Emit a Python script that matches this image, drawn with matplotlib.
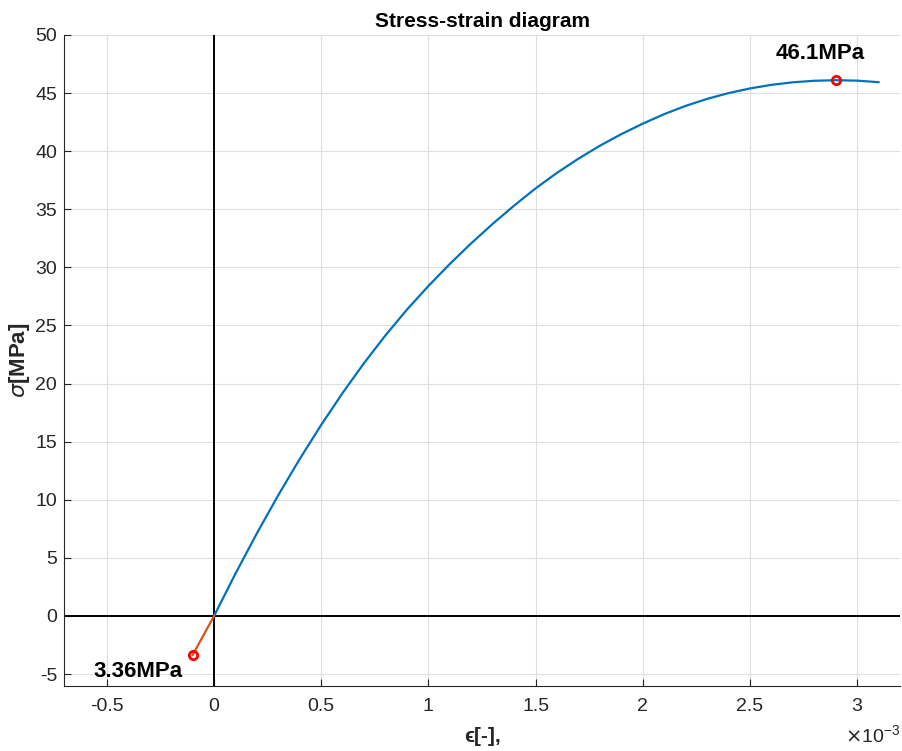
import matplotlib
matplotlib.use('Agg')
import matplotlib.pyplot as plt
from matplotlib.ticker import FuncFormatter, MultipleLocator

plt.rcParams['font.family'] = ['Liberation Sans', 'DejaVu Sans']
plt.rcParams['axes.unicode_minus'] = False
plt.rcParams['mathtext.fontset'] = 'dejavusans'

#######################################
## Data
#######################################

# compression branch, strain [-] and stress [MPa]
strain = [0.0, 0.1e-3, 0.2e-3, 0.3e-3, 0.4e-3, 0.5e-3, 0.6e-3, 0.7e-3, 0.8e-3,
          0.9e-3, 1.0e-3, 1.1e-3, 1.2e-3, 1.3e-3, 1.4e-3, 1.5e-3, 1.6e-3,
          1.7e-3, 1.8e-3, 1.9e-3, 2.0e-3, 2.1e-3, 2.2e-3, 2.3e-3, 2.4e-3,
          2.5e-3, 2.6e-3, 2.7e-3, 2.8e-3, 2.9e-3, 3.0e-3, 3.1e-3]
stress = [0.0, 3.65, 7.12, 10.41, 13.52, 16.45, 19.20, 21.77, 24.16, 26.37,
          28.40, 30.30, 32.08, 33.75, 35.32, 36.80, 38.14, 39.36, 40.47,
          41.47, 42.37, 43.19, 43.90, 44.50, 45.00, 45.40, 45.71, 45.93,
          46.06, 46.11, 46.07, 45.94]

# tension branch
strain_t = [0.0, -0.1e-3]
stress_t = [0.0, -3.36]

# peak points
peak_c = (2.9e-3, 46.1)
peak_t = (-0.1e-3, -3.36)

xticks = [-0.5e-3, 0, 0.5e-3, 1e-3, 1.5e-3, 2e-3, 2.5e-3, 3e-3]

blue = '#0072BD'
orange = '#D95319'
axcol = '#262626'

fig = plt.figure(figsize=(9.03, 7.51), dpi=100)
ax = fig.add_axes([0.0709, 0.087, 0.9258, 0.8664])

ax.plot(strain, stress, color=blue, lw=1.6, zorder=3)
ax.plot(strain_t, stress_t, color=orange, lw=1.6, zorder=3)
ax.axvline(0, color='black', lw=1.4, zorder=2)
ax.axhline(0, color='black', lw=1.4, zorder=2)

for px, py in (peak_c, peak_t):
    ax.plot(px, py, 'o', ms=6, mfc='none', mec='red', mew=2, zorder=4)

ax.annotate('%.1fMPa' % peak_c[1], peak_c, xytext=(-11, 12),
            textcoords='offset points', ha='center', va='bottom',
            fontsize=16, fontweight='bold')
ax.annotate('%.2fMPa' % abs(peak_t[1]), peak_t, xytext=(-7, -16),
            textcoords='offset points', ha='right', va='baseline',
            fontsize=16, fontweight='bold')

ax.set_xlim(-0.7e-3, 3.2e-3)
ax.set_ylim(-6, 50)
ax.set_xticks(xticks)
ax.yaxis.set_major_locator(MultipleLocator(5))
ax.xaxis.set_major_formatter(FuncFormatter(lambda v, p: '%g' % round(v * 1e3, 3)))
ax.text(1.0, -0.0865, r'$\times\mathregular{10^{-3}}$', transform=ax.transAxes,
        ha='right', va='baseline', fontsize=14, color=axcol)

ax.grid(True, color='#dedede', lw=0.8)
ax.set_axisbelow(True)
for side in ('top', 'right'):
    ax.spines[side].set_visible(False)
for side in ('left', 'bottom'):
    ax.spines[side].set_color(axcol)
    ax.spines[side].set_linewidth(0.8)
ax.tick_params(direction='in', length=5, width=0.8, color=axcol,
               labelcolor=axcol, labelsize=14)
ax.tick_params(axis='x', pad=9)
ax.tick_params(axis='y', pad=5)

ax.set_title('Stress-strain diagram', fontsize=15, fontweight='bold', pad=6)
ax.set_xlabel('\u03f5[-],', fontsize=15, fontweight='bold', color=axcol)
ax.set_ylabel(r'$\sigma$[MPa]', fontsize=16, fontweight='bold', color=axcol)
ax.xaxis.set_label_coords(0.5, -0.063)
ax.yaxis.set_label_coords(-0.038, 0.5)

fig.savefig('out.png', dpi=100)
